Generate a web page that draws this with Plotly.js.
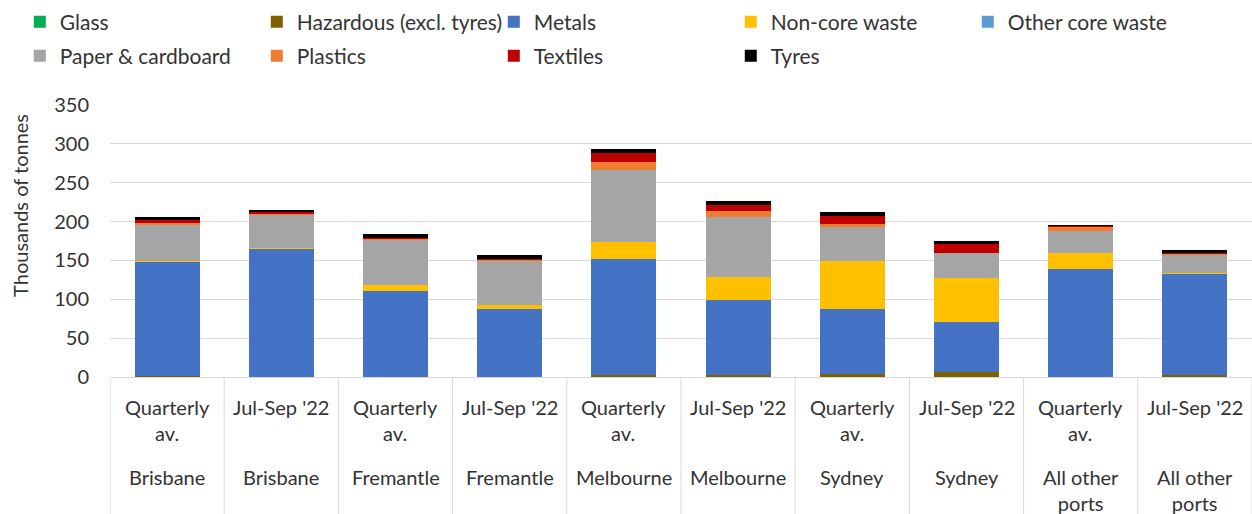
<!DOCTYPE html>
<html>
<head>
<meta charset="utf-8">
<script src="https://cdn.plot.ly/plotly-3.0.1.min.js"></script>
<style>
  html, body { margin: 0; padding: 0; background: #ffffff; }
  #chart { width: 1252px; height: 514px; }
</style>
</head>
<body>
<div id="chart"></div>
<script>
// ---- Data (thousands of tonnes) ----
const periods = ["Quarterly<br>av.", "Jul-Sep '22", "Quarterly<br>av.", "Jul-Sep '22", "Quarterly<br>av.", "Jul-Sep '22", "Quarterly<br>av.", "Jul-Sep '22", "Quarterly<br>av.", "Jul-Sep '22"];
const ports = ["Brisbane", "Brisbane", "Fremantle", "Fremantle", "Melbourne", "Melbourne", "Sydney", "Sydney", "All other<br>ports", "All other<br>ports"];

const glass      = [0, 0, 0, 0, 0, 0, 0, 0, 0, 0];
const hazardous  = [1, 0.5, 0.5, 0.5, 2, 2.5, 4.3, 6.4, 0.5, 2];
const metals     = [147.5, 164, 110, 87, 150, 96, 83.2, 64.8, 138, 130.6];
const nonCore    = [0.5, 1, 7.7, 4.7, 21.8, 29.6, 62.2, 56.8, 21.4, 0.9];
const otherCore  = [0, 0, 0, 0, 0, 0, 0, 0, 0, 0];
const paper      = [46.6, 42.8, 58, 57.5, 92.7, 77.2, 42.9, 31, 28.3, 23.5];
const plastics   = [2.2, 2, 1, 0.5, 10.6, 7.7, 4.4, 1, 4.3, 1];
const textiles   = [4.2, 2.2, 1.2, 1.3, 11, 8.6, 10, 10.7, 2.2, 2];
const tyres      = [3.5, 2.2, 6, 5.5, 5.4, 4.7, 5, 3.8, 0.8, 3.5];

const seriesNames = ["Glass", "Hazardous (excl. tyres)", "Metals", "Non-core waste", "Other core waste", "Paper & cardboard", "Plastics", "Textiles", "Tyres"];
const seriesValues = [glass, hazardous, metals, nonCore, otherCore, paper, plastics, textiles, tyres];
const seriesColors = ["#00B050", "#7F6000", "#4472C4", "#FFC000", "#5B9BD5", "#A5A5A5", "#ED7D31", "#C00000", "#000000"];

const yTicks = [0, 50, 100, 150, 200, 250, 300, 350];

// ---- Build ----
const xIdx = periods.map((_, i) => i);
const FONT = "Lato, 'Open Sans', sans-serif";
const TXT = "#333333";

const traces = seriesNames.map((name, k) => ({
  type: "bar",
  name: name,
  x: xIdx,
  y: seriesValues[k],
  legend: k < 5 ? "legend" : "legend2",
  marker: { color: seriesColors[k], line: { width: 0 } },
  hoverinfo: "name+y"
}));

const annotations = [];
xIdx.forEach(i => {
  annotations.push({
    x: i, xref: "x", y: -0.057, yref: "paper", yanchor: "top", xanchor: "center",
    text: periods[i], showarrow: false, font: { family: FONT, size: 20, color: TXT }
  });
  annotations.push({
    x: i, xref: "x", y: -0.315, yref: "paper", yanchor: "top", xanchor: "center",
    text: ports[i], showarrow: false, font: { family: FONT, size: 20, color: TXT }
  });
});
annotations.push({
  x: -0.079, xref: "paper", y: 0.632, yref: "paper", xanchor: "center", yanchor: "middle",
  text: "Thousands of tonnes", textangle: -90, showarrow: false,
  font: { family: FONT, size: 20, color: TXT }
});

const shapes = [];
for (let i = 0; i <= xIdx.length; i++) {
  shapes.push({
    type: "line", xref: "x", yref: "paper",
    x0: i - 0.5, x1: i - 0.5, y0: 0, y1: -0.51,
    line: { color: "#D9D9D9", width: 1 }
  });
}

const legendCommon = {
  orientation: "h", xanchor: "left", yanchor: "top",
  entrywidth: 192, entrywidthmode: "pixels", traceorder: "normal",
  font: { family: FONT, size: 21, color: TXT }, itemclick: false,
  bgcolor: "rgba(0,0,0,0)"
};

const layout = {
  width: 1252, height: 514,
  margin: { l: 110, r: 0, t: 105, b: 137 },
  paper_bgcolor: "#ffffff", plot_bgcolor: "#ffffff",
  barmode: "stack",
  bargap: 0.43,
  font: { family: FONT, size: 20, color: TXT },
  xaxis: {
    range: [-0.5, 9.5], showticklabels: false, showgrid: false, zeroline: false,
    showline: true, linecolor: "#D9D9D9", linewidth: 1, ticks: "", fixedrange: true
  },
  yaxis: {
    range: [0, 350], tickvals: yTicks, ticktext: yTicks.map(String),
    showgrid: true, gridcolor: "#D9D9D9", gridwidth: 1, zeroline: false,
    showline: false, ticks: "", ticklabelstandoff: 20,
    tickfont: { family: FONT, size: 20, color: TXT }
  },
  legend: Object.assign({}, legendCommon, { x: -0.079, y: 1.38 }),
  legend2: Object.assign({}, legendCommon, { x: -0.079, y: 1.255 }),
  showlegend: true,
  annotations: annotations,
  shapes: shapes
};

Plotly.newPlot("chart", traces, layout, { displayModeBar: false, staticPlot: true });
</script>
</body>
</html>
